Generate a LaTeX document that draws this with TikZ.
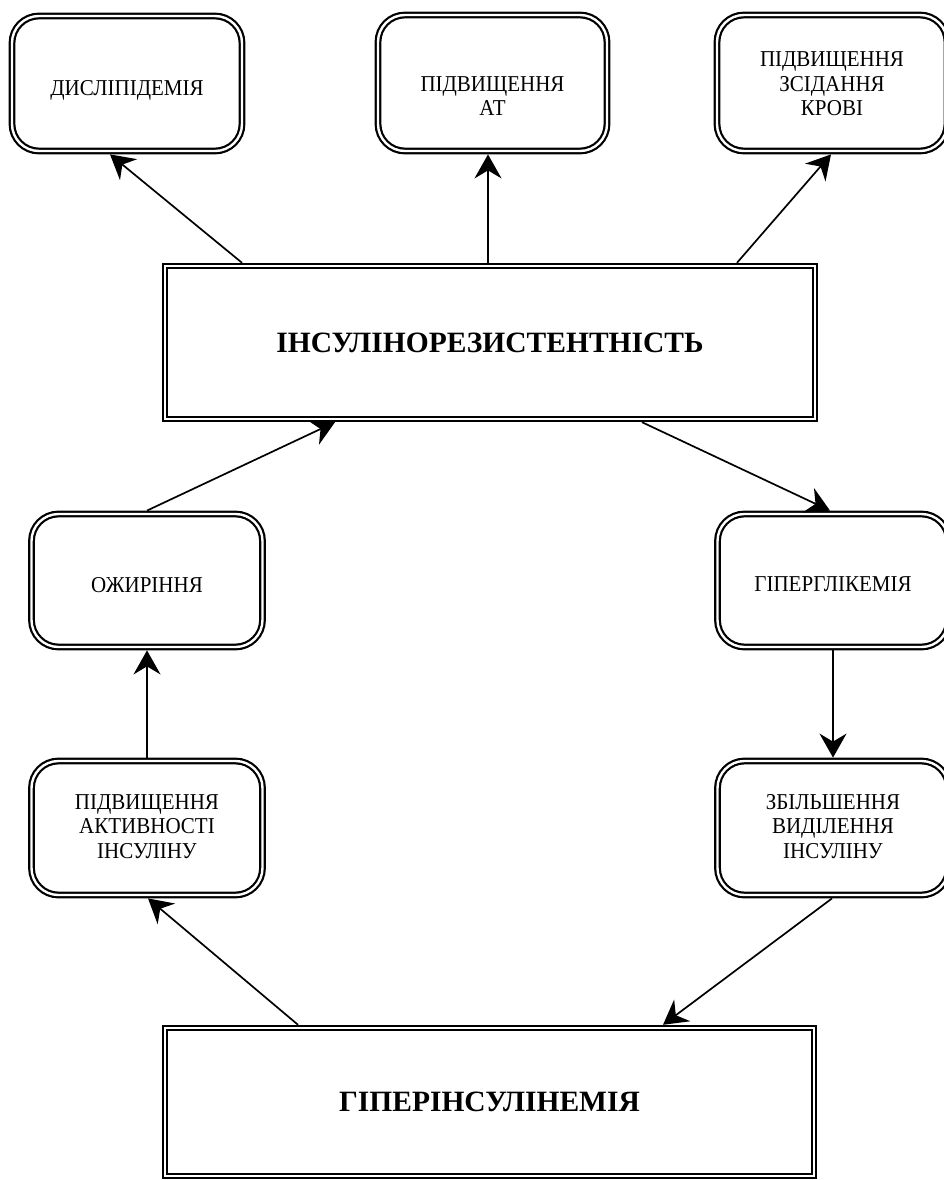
\documentclass[tikz,border=0pt]{standalone}
\usepackage{fontspec}
\setmainfont{Liberation Serif}
\usetikzlibrary{arrows.meta}
\newcommand\shiftedtext[2]{\raisebox{#1}[0pt][0pt]{\scalebox{1}[1.08]{\begin{tabular}{@{}c@{}}#2\end{tabular}}}}
\begin{document}
\begin{tikzpicture}[x=1pt,y=-1pt,
  rbox/.style={draw, double, line width=2.2pt, double distance=2.4pt, rounded corners=27pt,
    align=center, inner sep=0pt, outer sep=3.4pt, font=\fontsize{21}{22.5}\selectfont},
  sbox/.style={draw, double, line width=2pt, double distance=2.4pt,
    align=center, inner sep=0pt, outer sep=3.2pt, font=\fontsize{29.5}{33}\selectfont\bfseries},
  arr/.style={line width=1.7pt, -{Stealth[length=24pt,width=27pt,inset=8pt]}}]
\useasboundingbox (0,0) rectangle (944,1180);
\node[rbox, minimum width=230pt, minimum height=135pt] (dys) at (127,83.5) {\shiftedtext{-13pt}{ДИСЛІПІДЕМІЯ}};
\node[rbox, minimum width=229pt, minimum height=136pt] (at) at (492.5,83) {\shiftedtext{-21pt}{ПІДВИЩЕННЯ\\АТ}};
\node[rbox, minimum width=230pt, minimum height=136pt] (krov) at (832,83) {\shiftedtext{-9pt}{ПІДВИЩЕННЯ\\ЗСІДАННЯ\\КРОВІ}};
\node[sbox, minimum width=650pt, minimum height=153pt] (main) at (490,342.5) {ІНСУЛІНОРЕЗИСТЕНТНІСТЬ};
\node[rbox, minimum width=231pt, minimum height=133pt] (ozh) at (147,580.5) {\shiftedtext{-12.5pt}{ОЖИРІННЯ}};
\node[rbox, minimum width=231pt, minimum height=133pt] (glik) at (833,580.5) {\shiftedtext{-11.5pt}{ГІПЕРГЛІКЕМІЯ}};
\node[rbox, minimum width=231pt, minimum height=134pt] (akt) at (147,828) {\shiftedtext{-6.5pt}{ПІДВИЩЕННЯ\\АКТИВНОСТІ\\ІНСУЛІНУ}};
\node[rbox, minimum width=231pt, minimum height=134pt] (zbil) at (833,828) {\shiftedtext{-6.5pt}{ЗБІЛЬШЕННЯ\\ВИДІЛЕННЯ\\ІНСУЛІНУ}};
\node[sbox, minimum width=649pt, minimum height=148pt] (hyper) at (489.5,1102) {ГІПЕРІНСУЛІНЕМІЯ};

\draw[arr] ([xshift=-248pt]main.north) -- ([xshift=-17pt]dys.south);
\draw[arr] ([xshift=-2pt]main.north) -- ([xshift=-4.5pt]at.south);
\draw[arr] ([xshift=247pt]main.north) -- ([xshift=-1pt]krov.south);
\draw[arr] (ozh.north) -- ([xshift=-155pt]main.south);
\draw[arr] ([xshift=152pt]main.south) -- ([xshift=-3pt]glik.north);
\draw[arr] (glik.south) -- (zbil.north);
\draw[arr] (akt.north) -- (ozh.south);
\draw[arr] ([xshift=-191.5pt]hyper.north) -- ([xshift=1pt]akt.south);
\draw[arr] ([xshift=-1pt]zbil.south) -- ([xshift=173.5pt]hyper.north);
\end{tikzpicture}
\end{document}
